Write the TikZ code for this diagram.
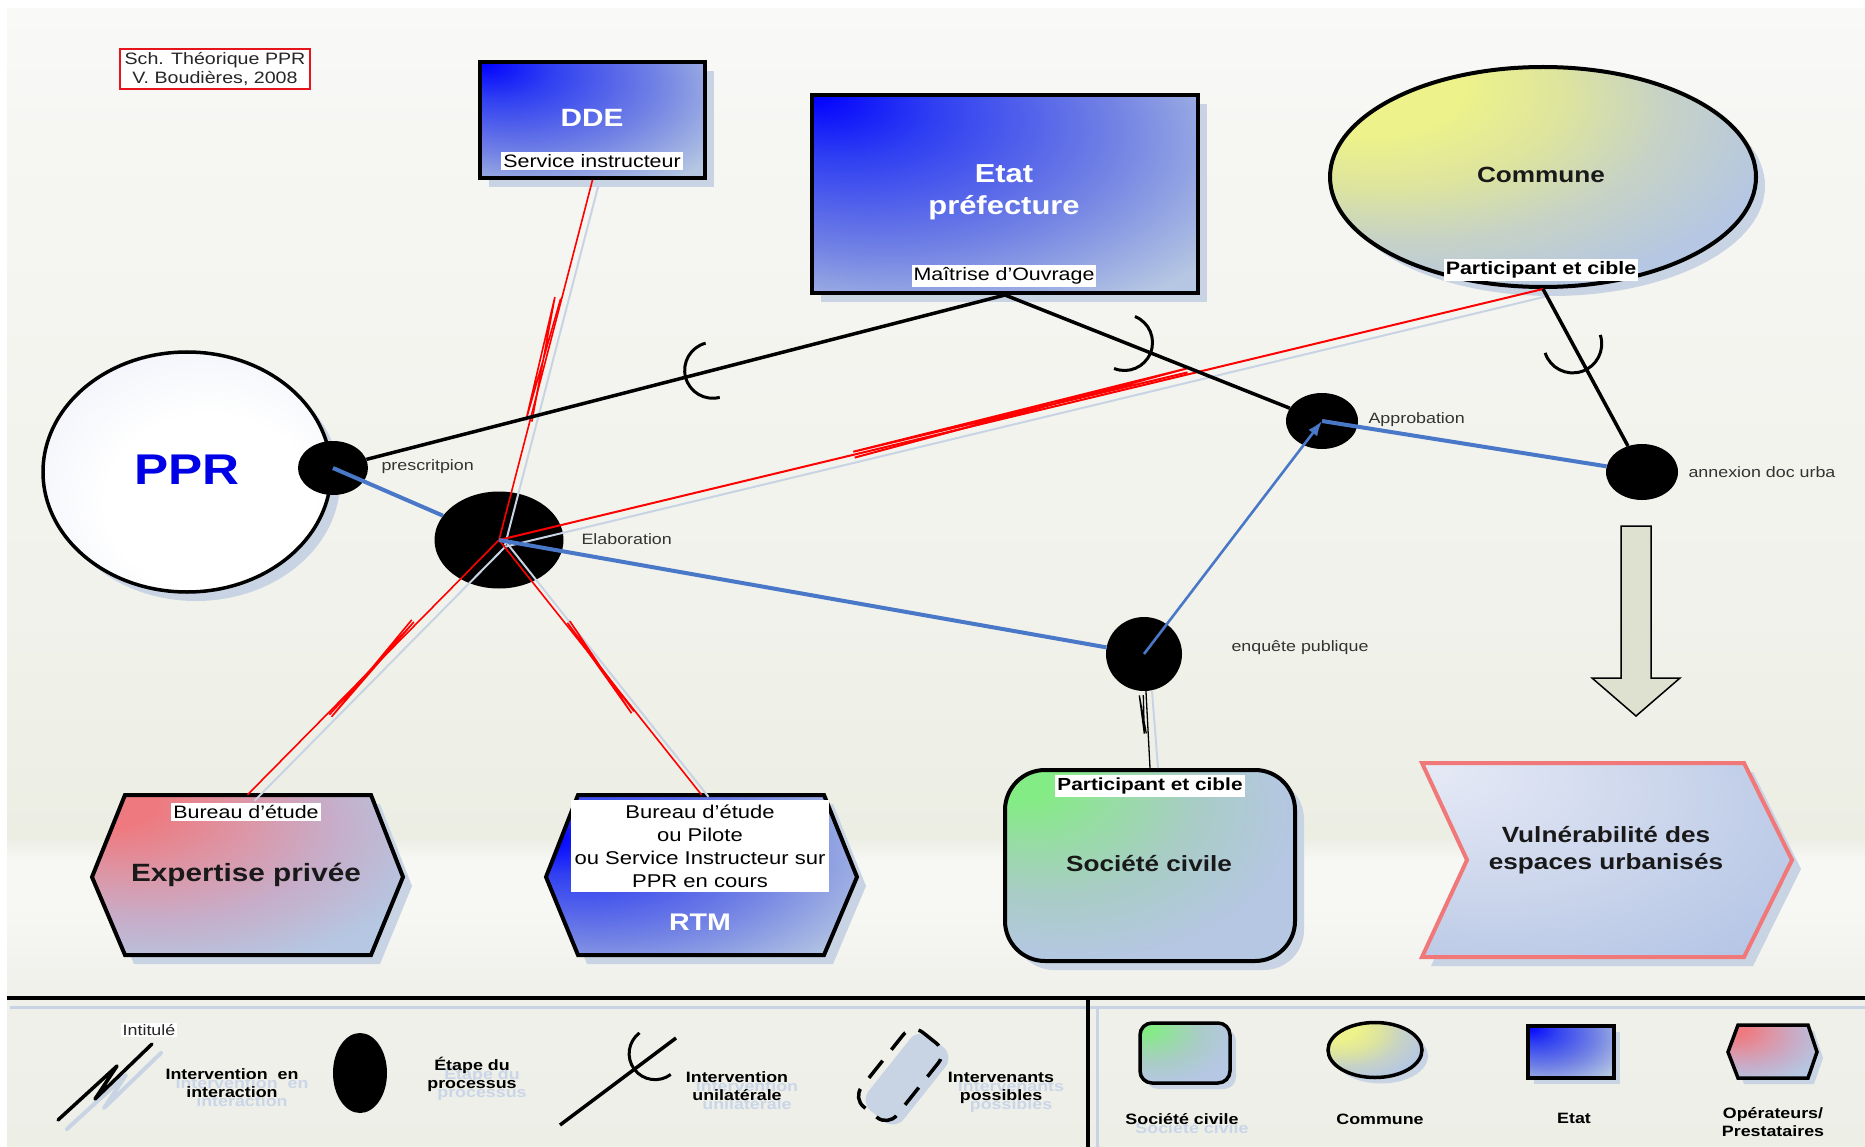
\documentclass[tikz,border=0pt]{standalone}
\usepackage{fontspec}
\setmainfont{Liberation Sans}[FakeStretch=1.19]
\usetikzlibrary{calc,shapes.geometric,arrows.meta}

\definecolor{lb}{HTML}{B5C7E2}
\definecolor{b0}{HTML}{0000FF}
\definecolor{b1}{HTML}{2F3FF2}
\definecolor{b2}{HTML}{7282E4}
\definecolor{y0}{HTML}{EDF28A}
\definecolor{y1}{HTML}{DDE49E}
\definecolor{y2}{HTML}{C6D2C6}
\definecolor{g0}{HTML}{84EC84}
\definecolor{g1}{HTML}{98DCA6}
\definecolor{g2}{HTML}{A9CCC6}
\definecolor{p0}{HTML}{EE7A80}
\definecolor{p1}{HTML}{DC96A6}
\definecolor{p2}{HTML}{C6AECA}
\definecolor{v0}{HTML}{E6EAF6}
\definecolor{v1}{HTML}{CCD6EC}
\definecolor{v2}{HTML}{B6C6E6}
\definecolor{w1}{HTML}{F4F6FB}
\definecolor{w2}{HTML}{E6EAF3}
\definecolor{bgA}{HTML}{EDEFE7}
\definecolor{bgB}{HTML}{EFF0EA}
\definecolor{bgC}{HTML}{F7F7F4}
\definecolor{bgD}{HTML}{ECEEE4}
\definecolor{bgE}{HTML}{F1F2EB}
\definecolor{bgF}{HTML}{F6F6F3}
\definecolor{bgG}{HTML}{F9F9F8}
\definecolor{shadowc}{HTML}{C8D4E4}
\definecolor{ghostc}{HTML}{CAD6E8}
\definecolor{redl}{HTML}{FF0000}
\definecolor{bluel}{HTML}{4A78C8}
\definecolor{labgrey}{HTML}{333333}
\definecolor{arrowfill}{HTML}{DFE1D0}
\definecolor{vulnb}{HTML}{F07878}
\definecolor{titred}{HTML}{E8141C}
\definecolor{pprblue}{HTML}{0000E6}

\pgfdeclareradialshading{shBlue}{\pgfpoint{-25bp}{25bp}}{color(0bp)=(b0); color(12bp)=(b1); color(30bp)=(b2); color(46bp)=(lb); color(80bp)=(lb)}
\pgfdeclareradialshading{shBlueL}{\pgfpoint{-25bp}{12bp}}{color(0bp)=(b0); color(10bp)=(b1); color(28bp)=(b2); color(44bp)=(lb); color(80bp)=(lb)}
\pgfdeclareradialshading{shYel}{\pgfpoint{-25bp}{25bp}}{color(0bp)=(y0); color(12bp)=(y0); color(21bp)=(y1); color(30bp)=(y2); color(40bp)=(lb); color(80bp)=(lb)}
\pgfdeclareradialshading{shGreen}{\pgfpoint{-25bp}{25bp}}{color(0bp)=(g0); color(6bp)=(g0); color(15bp)=(g1); color(25bp)=(g2); color(38bp)=(lb); color(80bp)=(lb)}
\pgfdeclareradialshading{shPink}{\pgfpoint{-25bp}{25bp}}{color(0bp)=(p0); color(8bp)=(p0); color(19bp)=(p1); color(30bp)=(p2); color(42bp)=(lb); color(80bp)=(lb)}
\pgfdeclareradialshading{shVuln}{\pgfpoint{-25bp}{25bp}}{color(0bp)=(v0); color(25bp)=(v1); color(45bp)=(v2); color(80bp)=(v2)}
\pgfdeclareradialshading{shWhite}{\pgfpoint{5bp}{-8bp}}{color(0bp)=(white); color(18bp)=(white); color(30bp)=(w1); color(42bp)=(w2); color(80bp)=(w2)}
\pgfdeclareverticalshading{bgsh}{100bp}{color(0bp)=(bgA); color(25bp)=(bgA); color(31.5bp)=(bgB); color(35.6bp)=(bgC); color(37.6bp)=(bgC); color(38.6bp)=(bgD); color(49bp)=(bgE); color(69.7bp)=(bgF); color(75bp)=(bgG); color(100bp)=(bgG)}

\newcommand{\myfs}[2]{\fontsize{#1}{#2}\selectfont}
\newcommand{\zig}[9]{%
  \draw[#1] ($(#2)!#4!(#3)!#6!90:(#3)$) -- ($(#2)!#5!(#3)!#7!90:(#3)$) -- ($(#2)!#4!(#3)!#8!90:(#3)$) -- ($(#2)!#5!(#3)!#9!90:(#3)$);}

\begin{document}
\begin{tikzpicture}[x=1pt,y=-1pt,
  mybox/.style={rectangle, draw=black, line width=4pt, inner sep=0pt, shade},
  shad/.style={preaction={fill=shadowc, transform canvas={shift={(9pt,-9pt)}}}},
  shads/.style={preaction={fill=shadowc, transform canvas={shift={(6pt,-6pt)}}}},
  stepdot/.style={ellipse, fill=black, inner sep=0pt},
  wlab/.style={fill=white, inner xsep=2pt, inner ysep=2.5pt, text=black},
  steplab/.style={anchor=west, text=labgrey, font=\myfs{15}{18}},
  redline/.style={draw=redl, line width=1.6pt},
  shline/.style={draw=shadowc, line width=2pt},
  blk/.style={draw=black, line width=3.5pt},
  thinblk/.style={draw=black, line width=1.3pt},
  bluth/.style={draw=bluel, line width=4pt},
  bluarr/.style={draw=bluel, line width=2.6pt, -{Latex[length=15pt,width=11pt]}},
  leglab/.style={align=center, font=\bfseries\myfs{15}{18}, text=black},
  ghosttxt/.style={align=center, font=\bfseries\myfs{15}{18}, text=ghostc},
]
\useasboundingbox (0,0) rectangle (1865,1147);
\fill[white] (0,0) rectangle (1865,1147);
\shade[shading=bgsh] (7,9) rectangle (1865,1147);

% ---------- title
\node[draw=titred, line width=2pt, fill=white, minimum width=190pt, minimum height=40pt, inner sep=0pt, align=center, text=black!85, font=\myfs{16.5}{19}] (title) at (215,69) {Sch. Théorique PPR\\V. Boudières, 2008};

% ---------- DDE
\node[mybox, shad, shading=shBlue, minimum width=225pt, minimum height=116pt] (dde) at (592.5,120) {};
\node[text=white, font=\bfseries\myfs{25}{30}] (ddet) at (592,118) {DDE};
\node[wlab, font=\myfs{18}{21}] (ddel) at (592,161) {Service instructeur};

% ---------- Etat
\node[mybox, shad, shading=shBlue, minimum width=386pt, minimum height=198pt] (etat) at (1005,194) {};
\node[text=white, align=center, font=\bfseries\myfs{26}{32}] (etatt) at (1004,192) {Etat\\préfecture};
\node[wlab, font=\myfs{18}{21}] (etatl) at (1004,276) {Maîtrise d'Ouvrage};

% ---------- Commune
\node[ellipse, draw=black, line width=4pt, inner sep=0pt, shade, shad, shading=shYel, minimum width=426pt, minimum height=220pt] (commune) at (1543,177) {};
\node[font=\bfseries\myfs{22}{26}, text=black!90] (communet) at (1541,175) {Commune};
\node[wlab, font=\bfseries\myfs{18}{21}] (communel) at (1541,270) {Participant et cible};

% ---------- PPR
\node[ellipse, draw=black, line width=3.5pt, inner sep=0pt, shade, shad, shading=shWhite, minimum width=288pt, minimum height=240pt] (ppr) at (187,472) {};
\node[text=pprblue, font=\bfseries\myfs{43}{50}] (pprt) at (187,470) {PPR};

% ---------- process steps
\node[stepdot, minimum width=70pt, minimum height=54pt] (pres) at (333,468) {};
\node[stepdot, minimum width=129pt, minimum height=97pt] (elab) at (499,540) {};
\node[stepdot, minimum width=72pt, minimum height=56pt] (appro) at (1322,421) {};
\node[stepdot, minimum width=72pt, minimum height=56pt] (annex) at (1642,472) {};
\node[stepdot, minimum width=76pt, minimum height=74pt] (enq) at (1144,654) {};
\node[steplab] (lpres) at (378,467) {prescritpion};
\node[steplab] (lelab) at (578,539) {Elaboration};
\node[steplab] (lappro) at (1365,420) {Approbation};
\node[steplab] (lannex) at (1685,472) {annexion doc urba};
\node[steplab] (lenq) at (1228,648) {enquête publique};

% ---------- Expertise privee
\node[inner sep=0pt, minimum width=311pt, minimum height=160pt] (expert) at (247.5,875) {};
\path[draw=black, line width=4pt, shade, shad, shading=shPink] (92,877) -- (125,795) -- (371,795) -- (403,877) -- (371,955) -- (125,955) -- cycle;
\node[wlab, font=\myfs{18}{21}] (expl) at (246,812) {Bureau d'étude};
\node[font=\bfseries\myfs{25}{30}, text=black!90] (expt) at (246,875) {Expertise privée};

% ---------- RTM
\node[inner sep=0pt, minimum width=311pt, minimum height=160pt] (rtm) at (701.5,875) {};
\path[draw=black, line width=4pt, shade, shad, shading=shBlueL] (546,877) -- (578,795) -- (824,795) -- (857,877) -- (824,955) -- (578,955) -- cycle;
\node[fill=white, inner sep=0pt, minimum width=258pt, minimum height=92pt, align=center, font=\myfs{18.5}{23}] (rtml) at (700,846) {Bureau d'étude\\ou Pilote\\ou Service Instructeur sur\\PPR en cours};
\node[text=white, font=\bfseries\myfs{24}{28}] (rtmt) at (700,922) {RTM};

% ---------- Societe civile
\node[rectangle, rounded corners=40pt, draw=black, line width=4pt, inner sep=0pt, shade, shad, shading=shGreen, minimum width=290pt, minimum height=191pt] (soc) at (1150,865.5) {};
\node[wlab, font=\bfseries\myfs{17.5}{21}] (socl) at (1150,786) {Participant et cible};
\node[font=\bfseries\myfs{22}{26}, text=black!90] (soct) at (1149,864) {Société civile};

% ---------- Vulnerabilite
\path[draw=vulnb, line width=4pt, shade, shad, shading=shVuln] (1422,763) -- (1744,763) -- (1792,860) -- (1744,957) -- (1422,957) -- (1467,860) -- cycle;
\node[align=center, font=\bfseries\myfs{22}{27}, text=black!90] (vuln) at (1606,850) {Vulnérabilité des\\espaces urbanisés};

% ---------- big arrow
\path[draw=black, line width=1.5pt, fill=arrowfill] (1621,526) -- (1651,526) -- (1651,678) -- (1680,678) -- (1636,716) -- (1592,678) -- (1621,678) -- cycle;

% ---------- connectors
\coordinate (hub) at (elab.center);
\draw[shline] ([shift={(6,5)}]hub) -- ([shift={(6,5)}]dde.south);
\draw[shline] ([shift={(5,7)}]hub) -- ([shift={(5,7)}]commune.south);
\draw[shline] ([shift={(7,6)}]hub) -- ([shift={(7,6)}]expert.north);
\draw[shline] ([shift={(7,2)}]hub) -- ([shift={(7,2)}]rtm.north);
\draw[shline] ([shift={(8,0)}]enq.south) -- ([shift={(8,0)}]soc.north);

\draw[redline] (hub) -- (dde.south);
\zig{redline}{hub}{dde.south}{0.33}{0.67}{-2pt}{7pt}{4pt}{1pt}
\draw[redline, line width=2pt] (hub) -- (commune.south);
\zig{redline, line width=2pt}{hub}{commune.south}{0.34}{0.66}{-3pt}{6pt}{3pt}{2pt}
\draw[redline] (hub) -- (expert.north);
\zig{redline}{hub}{expert.north}{0.33}{0.68}{-6pt}{5pt}{-3pt}{2pt}
\draw[redline] (hub) -- (rtm.north);
\zig{redline}{hub}{rtm.north}{0.33}{0.67}{5pt}{-4pt}{2pt}{-1pt}

\draw[thinblk] (enq) -- (soc.north);
\zig{thinblk}{enq.south}{soc.north}{0.55}{0.05}{-1pt}{-5pt}{-3pt}{-1pt}

\draw[blk] (etat.south) -- (pres);
\draw[blk] (etat.south) -- (appro);
\draw[blk] (commune.south) -- (annex);
\coordinate (cupA) at ($(pres.center)!0.565!(etat.south)$);
\coordinate (cupB) at ($(etat.south)!0.377!(appro.center)$);
\coordinate (cupC) at ($(commune.south)!0.3!(annex.center)$);
\draw[blk, line width=3pt] ([shift={(75.4:28)}]cupA) arc[start angle=75.4, end angle=255.4, radius=28];
\draw[blk, line width=3pt] ([shift={(-68.1:28)}]cupB) arc[start angle=-68.1, end angle=111.9, radius=28];
\draw[blk, line width=3pt] ([shift={(-18:29)}]cupC) arc[start angle=-18, end angle=162, radius=29];

\draw[bluth] (pres.center) -- (elab);
\draw[bluth] (elab.center) -- (enq);
\draw[bluth] (appro.center) -- (annex);
\draw[bluarr] (enq.center) -- (appro.center);

% ---------- legend frame
\draw[draw=shadowc, line width=3pt] (10,1007) -- (1865,1007);
\draw[draw=shadowc, line width=3pt] (1097,1007) -- (1097,1147);
\draw[line width=3.5pt] (7,998) -- (1865,998);
\draw[line width=3.5pt] (1088,998) -- (1088,1147);

% interaction glyph
\draw[draw=shadowc, line width=4pt, line cap=round, line join=round] (67,1129) -- (126,1075) -- (104,1108) -- (161,1053);
\draw[line width=3.5pt, line cap=round, line join=round] (58,1120) -- (117,1066) -- (95,1099) -- (152,1044);
\node[fill=white, inner sep=1.5pt, font=\myfs{15}{18}, text=black!85] (intit) at (149,1030) {Intitulé};
\node[ghosttxt] (g1) at (242,1092) {Intervention\ \ en\\interaction};
\node[leglab] (l1) at (232,1083) {Intervention\ \ en\\interaction};

% step glyph
\node[stepdot, minimum width=54pt, minimum height=80pt] (ldot) at (360,1073) {};
\node[ghosttxt] (g2) at (482,1083) {Étape du\\processus};
\node[leglab] (l2) at (472,1074) {Étape du\\processus};

% unilateral glyph
\coordinate (u1) at (560,1125);
\coordinate (u2) at (676,1038);
\draw[blk] (u1) -- (u2);
\coordinate (cupD) at ($(u1)!0.82!(u2)$);
\draw[blk, line width=3pt] ([shift={(53.1:26)}]cupD) arc[start angle=53.1, end angle=233.1, radius=26];
\node[ghosttxt] (g3) at (747,1095) {Intervention\\unilatérale};
\node[leglab] (l3) at (737,1086) {Intervention\\unilatérale};

% possible actors glyph
\node[rectangle, rotate=-38.5, minimum width=45pt, minimum height=95pt, inner sep=0pt, draw=black, line width=3.5pt, dash pattern=on 22pt off 14pt, rounded corners=14pt, preaction={fill=shadowc, transform canvas={shift={(7pt,-4pt)}}}] (ldash) at (900,1075) {};
\node[ghosttxt] (g4) at (1011,1097) {Intervenants\\possibles};
\node[leglab] (l4) at (1001,1088) {Intervenants\\possibles};

% right legend
\node[rectangle, rounded corners=12pt, draw=black, line width=3.5pt, inner sep=0pt, shade, shads, shading=shGreen, minimum width=90pt, minimum height=60pt] (lsoc) at (1185,1053) {};
\node[ellipse, draw=black, line width=3.5pt, inner sep=0pt, shade, shads, shading=shYel, minimum width=94pt, minimum height=55pt] (lcom) at (1375,1050) {};
\node[mybox, line width=3.5pt, shads, shading=shBlue, minimum width=86pt, minimum height=52pt] (letat) at (1571,1052) {};
\path[draw=black, line width=3.5pt, shade, shads, shading=shPink] (1728,1052) -- (1738,1025) -- (1808,1025) -- (1817,1052) -- (1808,1078) -- (1738,1078) -- cycle;
\node[ghosttxt] (g5) at (1192,1128) {Société civile};
\node[leglab] (l5) at (1182,1119) {Société civile};
\node[leglab] (l6) at (1380,1119) {Commune};
\node[leglab] (l7) at (1574,1118) {Etat};
\node[leglab] (l8) at (1773,1122) {Opérateurs/\\Prestataires};
\end{tikzpicture}
\end{document}
